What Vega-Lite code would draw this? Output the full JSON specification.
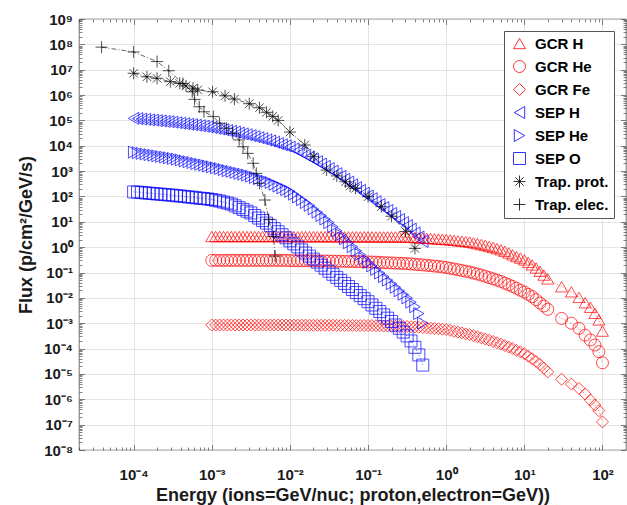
{
"$schema": "https://vega.github.io/schema/vega-lite/v6.json",
"width": 547, "height": 431,
"autosize": {"type": "none"},
"padding": {"left": 79, "top": 19, "right": 1, "bottom": 55},
"background": "white",
"config": {
 "view": {"stroke": "#333333", "strokeWidth": 0.7},
 "axis": {"labelFont": "Liberation Sans", "labelFontWeight": "bold", "labelFontSize": 15, "labelColor": "#1a1a1a",
   "titleFont": "Liberation Sans", "titleFontWeight": "bold", "titleFontSize": 18, "titleColor": "#1a1a1a",
   "domain": false, "tickColor": "#333333", "tickWidth": 0.6, "gridColor": "#d9d9d9", "gridWidth": 0.7,
   "labelOverlap": false, "labelFlush": false, "labelBound": false},
 "legend": {"labelFont": "Liberation Sans", "labelFontWeight": "bold", "labelFontSize": 15, "labelColor": "#000000"}
},
"data": {"values": [
{"s":"GCR H","lgE":-3.00,"lgF":0.42},{"s":"GCR H","lgE":-2.95,"lgF":0.42},{"s":"GCR H","lgE":-2.90,"lgF":0.42},{"s":"GCR H","lgE":-2.85,"lgF":0.42},{"s":"GCR H","lgE":-2.80,"lgF":0.42},{"s":"GCR H","lgE":-2.75,"lgF":0.42},{"s":"GCR H","lgE":-2.70,"lgF":0.42},{"s":"GCR H","lgE":-2.65,"lgF":0.42},{"s":"GCR H","lgE":-2.60,"lgF":0.42},{"s":"GCR H","lgE":-2.55,"lgF":0.42},
{"s":"GCR H","lgE":-2.50,"lgF":0.42},{"s":"GCR H","lgE":-2.45,"lgF":0.42},{"s":"GCR H","lgE":-2.40,"lgF":0.42},{"s":"GCR H","lgE":-2.35,"lgF":0.42},{"s":"GCR H","lgE":-2.30,"lgF":0.42},{"s":"GCR H","lgE":-2.25,"lgF":0.42},{"s":"GCR H","lgE":-2.20,"lgF":0.42},{"s":"GCR H","lgE":-2.15,"lgF":0.42},{"s":"GCR H","lgE":-2.10,"lgF":0.42},{"s":"GCR H","lgE":-2.05,"lgF":0.42},
{"s":"GCR H","lgE":-2.00,"lgF":0.42},{"s":"GCR H","lgE":-1.95,"lgF":0.415},{"s":"GCR H","lgE":-1.90,"lgF":0.415},{"s":"GCR H","lgE":-1.85,"lgF":0.415},{"s":"GCR H","lgE":-1.80,"lgF":0.415},{"s":"GCR H","lgE":-1.75,"lgF":0.415},{"s":"GCR H","lgE":-1.70,"lgF":0.415},{"s":"GCR H","lgE":-1.65,"lgF":0.415},{"s":"GCR H","lgE":-1.60,"lgF":0.415},{"s":"GCR H","lgE":-1.55,"lgF":0.415},
{"s":"GCR H","lgE":-1.50,"lgF":0.415},{"s":"GCR H","lgE":-1.45,"lgF":0.41},{"s":"GCR H","lgE":-1.40,"lgF":0.41},{"s":"GCR H","lgE":-1.35,"lgF":0.41},{"s":"GCR H","lgE":-1.30,"lgF":0.41},{"s":"GCR H","lgE":-1.25,"lgF":0.41},{"s":"GCR H","lgE":-1.20,"lgF":0.41},{"s":"GCR H","lgE":-1.15,"lgF":0.41},{"s":"GCR H","lgE":-1.10,"lgF":0.41},{"s":"GCR H","lgE":-1.05,"lgF":0.41},
{"s":"GCR H","lgE":-1.00,"lgF":0.41},{"s":"GCR H","lgE":-0.95,"lgF":0.405},{"s":"GCR H","lgE":-0.90,"lgF":0.405},{"s":"GCR H","lgE":-0.85,"lgF":0.405},{"s":"GCR H","lgE":-0.80,"lgF":0.405},{"s":"GCR H","lgE":-0.75,"lgF":0.405},{"s":"GCR H","lgE":-0.70,"lgF":0.405},{"s":"GCR H","lgE":-0.65,"lgF":0.405},{"s":"GCR H","lgE":-0.60,"lgF":0.405},{"s":"GCR H","lgE":-0.55,"lgF":0.40},
{"s":"GCR H","lgE":-0.50,"lgF":0.40},{"s":"GCR H","lgE":-0.45,"lgF":0.39},{"s":"GCR H","lgE":-0.40,"lgF":0.38},{"s":"GCR H","lgE":-0.35,"lgF":0.37},{"s":"GCR H","lgE":-0.30,"lgF":0.36},{"s":"GCR H","lgE":-0.25,"lgF":0.35},{"s":"GCR H","lgE":-0.20,"lgF":0.34},{"s":"GCR H","lgE":-0.15,"lgF":0.33},{"s":"GCR H","lgE":-0.10,"lgF":0.32},{"s":"GCR H","lgE":-0.05,"lgF":0.31},
{"s":"GCR H","lgE":0.00,"lgF":0.30},{"s":"GCR H","lgE":0.05,"lgF":0.285},{"s":"GCR H","lgE":0.10,"lgF":0.27},{"s":"GCR H","lgE":0.15,"lgF":0.25},{"s":"GCR H","lgE":0.20,"lgF":0.235},{"s":"GCR H","lgE":0.25,"lgF":0.22},{"s":"GCR H","lgE":0.30,"lgF":0.20},{"s":"GCR H","lgE":0.35,"lgF":0.17},{"s":"GCR H","lgE":0.40,"lgF":0.14},{"s":"GCR H","lgE":0.45,"lgF":0.105},
{"s":"GCR H","lgE":0.50,"lgF":0.07},{"s":"GCR H","lgE":0.55,"lgF":0.03},{"s":"GCR H","lgE":0.60,"lgF":-0.01},{"s":"GCR H","lgE":0.65,"lgF":-0.055},{"s":"GCR H","lgE":0.70,"lgF":-0.10},{"s":"GCR H","lgE":0.75,"lgF":-0.16},{"s":"GCR H","lgE":0.80,"lgF":-0.23},{"s":"GCR H","lgE":0.85,"lgF":-0.30},{"s":"GCR H","lgE":0.90,"lgF":-0.37},{"s":"GCR H","lgE":0.95,"lgF":-0.43},
{"s":"GCR H","lgE":1.00,"lgF":-0.50},{"s":"GCR H","lgE":1.05,"lgF":-0.60},{"s":"GCR H","lgE":1.10,"lgF":-0.70},{"s":"GCR H","lgE":1.15,"lgF":-0.82},{"s":"GCR H","lgE":1.20,"lgF":-0.95},{"s":"GCR H","lgE":1.25,"lgF":-1.10},{"s":"GCR H","lgE":1.30,"lgF":-1.25},
{"s":"GCR H","lgE":1.477,"lgF":-1.56},{"s":"GCR H","lgE":1.602,"lgF":-1.76},{"s":"GCR H","lgE":1.699,"lgF":-1.98},{"s":"GCR H","lgE":1.778,"lgF":-2.19},{"s":"GCR H","lgE":1.845,"lgF":-2.37},{"s":"GCR H","lgE":1.903,"lgF":-2.61},{"s":"GCR H","lgE":1.954,"lgF":-2.87},{"s":"GCR H","lgE":2.0,"lgF":-3.31},

{"s":"GCR He","lgE":-3.00,"lgF":-0.52},{"s":"GCR He","lgE":-2.95,"lgF":-0.52},{"s":"GCR He","lgE":-2.90,"lgF":-0.52},{"s":"GCR He","lgE":-2.85,"lgF":-0.52},{"s":"GCR He","lgE":-2.80,"lgF":-0.52},{"s":"GCR He","lgE":-2.75,"lgF":-0.52},{"s":"GCR He","lgE":-2.70,"lgF":-0.52},{"s":"GCR He","lgE":-2.65,"lgF":-0.52},{"s":"GCR He","lgE":-2.60,"lgF":-0.52},{"s":"GCR He","lgE":-2.55,"lgF":-0.52},
{"s":"GCR He","lgE":-2.50,"lgF":-0.52},{"s":"GCR He","lgE":-2.45,"lgF":-0.52},{"s":"GCR He","lgE":-2.40,"lgF":-0.52},{"s":"GCR He","lgE":-2.35,"lgF":-0.52},{"s":"GCR He","lgE":-2.30,"lgF":-0.52},{"s":"GCR He","lgE":-2.25,"lgF":-0.52},{"s":"GCR He","lgE":-2.20,"lgF":-0.52},{"s":"GCR He","lgE":-2.15,"lgF":-0.52},{"s":"GCR He","lgE":-2.10,"lgF":-0.52},{"s":"GCR He","lgE":-2.05,"lgF":-0.52},
{"s":"GCR He","lgE":-2.00,"lgF":-0.53},{"s":"GCR He","lgE":-1.95,"lgF":-0.535},{"s":"GCR He","lgE":-1.90,"lgF":-0.535},{"s":"GCR He","lgE":-1.85,"lgF":-0.535},{"s":"GCR He","lgE":-1.80,"lgF":-0.535},{"s":"GCR He","lgE":-1.75,"lgF":-0.54},{"s":"GCR He","lgE":-1.70,"lgF":-0.54},{"s":"GCR He","lgE":-1.65,"lgF":-0.54},{"s":"GCR He","lgE":-1.60,"lgF":-0.545},{"s":"GCR He","lgE":-1.55,"lgF":-0.545},
{"s":"GCR He","lgE":-1.50,"lgF":-0.55},{"s":"GCR He","lgE":-1.45,"lgF":-0.55},{"s":"GCR He","lgE":-1.40,"lgF":-0.555},{"s":"GCR He","lgE":-1.35,"lgF":-0.555},{"s":"GCR He","lgE":-1.30,"lgF":-0.56},{"s":"GCR He","lgE":-1.25,"lgF":-0.56},{"s":"GCR He","lgE":-1.20,"lgF":-0.565},{"s":"GCR He","lgE":-1.15,"lgF":-0.57},{"s":"GCR He","lgE":-1.10,"lgF":-0.57},{"s":"GCR He","lgE":-1.05,"lgF":-0.575},
{"s":"GCR He","lgE":-1.00,"lgF":-0.58},{"s":"GCR He","lgE":-0.95,"lgF":-0.585},{"s":"GCR He","lgE":-0.90,"lgF":-0.59},{"s":"GCR He","lgE":-0.85,"lgF":-0.60},{"s":"GCR He","lgE":-0.80,"lgF":-0.61},{"s":"GCR He","lgE":-0.75,"lgF":-0.615},{"s":"GCR He","lgE":-0.70,"lgF":-0.62},{"s":"GCR He","lgE":-0.65,"lgF":-0.63},{"s":"GCR He","lgE":-0.60,"lgF":-0.635},{"s":"GCR He","lgE":-0.55,"lgF":-0.64},
{"s":"GCR He","lgE":-0.50,"lgF":-0.65},{"s":"GCR He","lgE":-0.45,"lgF":-0.66},{"s":"GCR He","lgE":-0.40,"lgF":-0.675},{"s":"GCR He","lgE":-0.35,"lgF":-0.69},{"s":"GCR He","lgE":-0.30,"lgF":-0.70},{"s":"GCR He","lgE":-0.25,"lgF":-0.715},{"s":"GCR He","lgE":-0.20,"lgF":-0.73},{"s":"GCR He","lgE":-0.15,"lgF":-0.745},{"s":"GCR He","lgE":-0.10,"lgF":-0.76},{"s":"GCR He","lgE":-0.05,"lgF":-0.78},
{"s":"GCR He","lgE":0.00,"lgF":-0.80},{"s":"GCR He","lgE":0.05,"lgF":-0.83},{"s":"GCR He","lgE":0.10,"lgF":-0.86},{"s":"GCR He","lgE":0.15,"lgF":-0.89},{"s":"GCR He","lgE":0.20,"lgF":-0.92},{"s":"GCR He","lgE":0.25,"lgF":-0.95},{"s":"GCR He","lgE":0.30,"lgF":-0.98},{"s":"GCR He","lgE":0.35,"lgF":-1.02},{"s":"GCR He","lgE":0.40,"lgF":-1.06},{"s":"GCR He","lgE":0.45,"lgF":-1.10},
{"s":"GCR He","lgE":0.50,"lgF":-1.15},{"s":"GCR He","lgE":0.55,"lgF":-1.20},{"s":"GCR He","lgE":0.60,"lgF":-1.25},{"s":"GCR He","lgE":0.65,"lgF":-1.30},{"s":"GCR He","lgE":0.70,"lgF":-1.35},{"s":"GCR He","lgE":0.75,"lgF":-1.42},{"s":"GCR He","lgE":0.80,"lgF":-1.48},{"s":"GCR He","lgE":0.85,"lgF":-1.55},{"s":"GCR He","lgE":0.90,"lgF":-1.62},{"s":"GCR He","lgE":0.95,"lgF":-1.70},
{"s":"GCR He","lgE":1.00,"lgF":-1.77},{"s":"GCR He","lgE":1.05,"lgF":-1.86},{"s":"GCR He","lgE":1.10,"lgF":-1.95},{"s":"GCR He","lgE":1.15,"lgF":-2.07},{"s":"GCR He","lgE":1.20,"lgF":-2.20},{"s":"GCR He","lgE":1.25,"lgF":-2.32},{"s":"GCR He","lgE":1.30,"lgF":-2.45},
{"s":"GCR He","lgE":1.477,"lgF":-2.81},{"s":"GCR He","lgE":1.602,"lgF":-3.00},{"s":"GCR He","lgE":1.699,"lgF":-3.20},{"s":"GCR He","lgE":1.778,"lgF":-3.47},{"s":"GCR He","lgE":1.845,"lgF":-3.66},{"s":"GCR He","lgE":1.903,"lgF":-3.86},{"s":"GCR He","lgE":1.954,"lgF":-4.12},{"s":"GCR He","lgE":2.0,"lgF":-4.56},

{"s":"GCR Fe","lgE":-3.00,"lgF":-3.07},{"s":"GCR Fe","lgE":-2.95,"lgF":-3.07},{"s":"GCR Fe","lgE":-2.90,"lgF":-3.07},{"s":"GCR Fe","lgE":-2.85,"lgF":-3.07},{"s":"GCR Fe","lgE":-2.80,"lgF":-3.07},{"s":"GCR Fe","lgE":-2.75,"lgF":-3.07},{"s":"GCR Fe","lgE":-2.70,"lgF":-3.07},{"s":"GCR Fe","lgE":-2.65,"lgF":-3.07},{"s":"GCR Fe","lgE":-2.60,"lgF":-3.07},{"s":"GCR Fe","lgE":-2.55,"lgF":-3.07},
{"s":"GCR Fe","lgE":-2.50,"lgF":-3.07},{"s":"GCR Fe","lgE":-2.45,"lgF":-3.07},{"s":"GCR Fe","lgE":-2.40,"lgF":-3.07},{"s":"GCR Fe","lgE":-2.35,"lgF":-3.07},{"s":"GCR Fe","lgE":-2.30,"lgF":-3.07},{"s":"GCR Fe","lgE":-2.25,"lgF":-3.07},{"s":"GCR Fe","lgE":-2.20,"lgF":-3.07},{"s":"GCR Fe","lgE":-2.15,"lgF":-3.07},{"s":"GCR Fe","lgE":-2.10,"lgF":-3.07},{"s":"GCR Fe","lgE":-2.05,"lgF":-3.07},
{"s":"GCR Fe","lgE":-2.00,"lgF":-3.075},{"s":"GCR Fe","lgE":-1.95,"lgF":-3.075},{"s":"GCR Fe","lgE":-1.90,"lgF":-3.075},{"s":"GCR Fe","lgE":-1.85,"lgF":-3.075},{"s":"GCR Fe","lgE":-1.80,"lgF":-3.075},{"s":"GCR Fe","lgE":-1.75,"lgF":-3.08},{"s":"GCR Fe","lgE":-1.70,"lgF":-3.08},{"s":"GCR Fe","lgE":-1.65,"lgF":-3.08},{"s":"GCR Fe","lgE":-1.60,"lgF":-3.08},{"s":"GCR Fe","lgE":-1.55,"lgF":-3.08},
{"s":"GCR Fe","lgE":-1.50,"lgF":-3.08},{"s":"GCR Fe","lgE":-1.45,"lgF":-3.08},{"s":"GCR Fe","lgE":-1.40,"lgF":-3.085},{"s":"GCR Fe","lgE":-1.35,"lgF":-3.085},{"s":"GCR Fe","lgE":-1.30,"lgF":-3.085},{"s":"GCR Fe","lgE":-1.25,"lgF":-3.085},{"s":"GCR Fe","lgE":-1.20,"lgF":-3.085},{"s":"GCR Fe","lgE":-1.15,"lgF":-3.09},{"s":"GCR Fe","lgE":-1.10,"lgF":-3.09},{"s":"GCR Fe","lgE":-1.05,"lgF":-3.09},
{"s":"GCR Fe","lgE":-1.00,"lgF":-3.09},{"s":"GCR Fe","lgE":-0.95,"lgF":-3.09},{"s":"GCR Fe","lgE":-0.90,"lgF":-3.10},{"s":"GCR Fe","lgE":-0.85,"lgF":-3.10},{"s":"GCR Fe","lgE":-0.80,"lgF":-3.11},{"s":"GCR Fe","lgE":-0.75,"lgF":-3.11},{"s":"GCR Fe","lgE":-0.70,"lgF":-3.12},{"s":"GCR Fe","lgE":-0.65,"lgF":-3.12},{"s":"GCR Fe","lgE":-0.60,"lgF":-3.13},{"s":"GCR Fe","lgE":-0.55,"lgF":-3.13},
{"s":"GCR Fe","lgE":-0.50,"lgF":-3.13},{"s":"GCR Fe","lgE":-0.45,"lgF":-3.14},{"s":"GCR Fe","lgE":-0.40,"lgF":-3.15},{"s":"GCR Fe","lgE":-0.35,"lgF":-3.16},{"s":"GCR Fe","lgE":-0.30,"lgF":-3.17},{"s":"GCR Fe","lgE":-0.25,"lgF":-3.18},{"s":"GCR Fe","lgE":-0.20,"lgF":-3.195},{"s":"GCR Fe","lgE":-0.15,"lgF":-3.21},{"s":"GCR Fe","lgE":-0.10,"lgF":-3.22},{"s":"GCR Fe","lgE":-0.05,"lgF":-3.235},
{"s":"GCR Fe","lgE":0.00,"lgF":-3.25},{"s":"GCR Fe","lgE":0.05,"lgF":-3.28},{"s":"GCR Fe","lgE":0.10,"lgF":-3.32},{"s":"GCR Fe","lgE":0.15,"lgF":-3.35},{"s":"GCR Fe","lgE":0.20,"lgF":-3.38},{"s":"GCR Fe","lgE":0.25,"lgF":-3.42},{"s":"GCR Fe","lgE":0.30,"lgF":-3.45},{"s":"GCR Fe","lgE":0.35,"lgF":-3.49},{"s":"GCR Fe","lgE":0.40,"lgF":-3.53},{"s":"GCR Fe","lgE":0.45,"lgF":-3.58},
{"s":"GCR Fe","lgE":0.50,"lgF":-3.62},{"s":"GCR Fe","lgE":0.55,"lgF":-3.67},{"s":"GCR Fe","lgE":0.60,"lgF":-3.72},{"s":"GCR Fe","lgE":0.65,"lgF":-3.77},{"s":"GCR Fe","lgE":0.70,"lgF":-3.82},{"s":"GCR Fe","lgE":0.75,"lgF":-3.88},{"s":"GCR Fe","lgE":0.80,"lgF":-3.94},{"s":"GCR Fe","lgE":0.85,"lgF":-4.00},{"s":"GCR Fe","lgE":0.90,"lgF":-4.07},{"s":"GCR Fe","lgE":0.95,"lgF":-4.13},
{"s":"GCR Fe","lgE":1.00,"lgF":-4.20},{"s":"GCR Fe","lgE":1.05,"lgF":-4.30},{"s":"GCR Fe","lgE":1.10,"lgF":-4.40},{"s":"GCR Fe","lgE":1.15,"lgF":-4.51},{"s":"GCR Fe","lgE":1.20,"lgF":-4.63},{"s":"GCR Fe","lgE":1.25,"lgF":-4.77},{"s":"GCR Fe","lgE":1.30,"lgF":-4.92},
{"s":"GCR Fe","lgE":1.477,"lgF":-5.21},{"s":"GCR Fe","lgE":1.602,"lgF":-5.40},{"s":"GCR Fe","lgE":1.699,"lgF":-5.57},{"s":"GCR Fe","lgE":1.778,"lgF":-5.79},{"s":"GCR Fe","lgE":1.845,"lgF":-6.03},{"s":"GCR Fe","lgE":1.903,"lgF":-6.23},{"s":"GCR Fe","lgE":1.954,"lgF":-6.45},{"s":"GCR Fe","lgE":2.0,"lgF":-6.89},

{"s":"SEP H","lgE":-4.00,"lgF":5.08},{"s":"SEP H","lgE":-3.95,"lgF":5.07},{"s":"SEP H","lgE":-3.90,"lgF":5.05},{"s":"SEP H","lgE":-3.85,"lgF":5.04},{"s":"SEP H","lgE":-3.80,"lgF":5.02},{"s":"SEP H","lgE":-3.75,"lgF":5.01},{"s":"SEP H","lgE":-3.70,"lgF":4.99},{"s":"SEP H","lgE":-3.65,"lgF":4.98},{"s":"SEP H","lgE":-3.60,"lgF":4.96},{"s":"SEP H","lgE":-3.55,"lgF":4.95},
{"s":"SEP H","lgE":-3.50,"lgF":4.93},{"s":"SEP H","lgE":-3.45,"lgF":4.91},{"s":"SEP H","lgE":-3.40,"lgF":4.89},{"s":"SEP H","lgE":-3.35,"lgF":4.87},{"s":"SEP H","lgE":-3.30,"lgF":4.85},{"s":"SEP H","lgE":-3.25,"lgF":4.83},{"s":"SEP H","lgE":-3.20,"lgF":4.81},{"s":"SEP H","lgE":-3.15,"lgF":4.79},{"s":"SEP H","lgE":-3.10,"lgF":4.77},{"s":"SEP H","lgE":-3.05,"lgF":4.745},
{"s":"SEP H","lgE":-3.00,"lgF":4.72},{"s":"SEP H","lgE":-2.95,"lgF":4.69},{"s":"SEP H","lgE":-2.90,"lgF":4.66},{"s":"SEP H","lgE":-2.85,"lgF":4.63},{"s":"SEP H","lgE":-2.80,"lgF":4.60},{"s":"SEP H","lgE":-2.75,"lgF":4.57},{"s":"SEP H","lgE":-2.70,"lgF":4.54},{"s":"SEP H","lgE":-2.65,"lgF":4.50},{"s":"SEP H","lgE":-2.60,"lgF":4.47},{"s":"SEP H","lgE":-2.55,"lgF":4.435},
{"s":"SEP H","lgE":-2.50,"lgF":4.40},{"s":"SEP H","lgE":-2.45,"lgF":4.36},{"s":"SEP H","lgE":-2.40,"lgF":4.32},{"s":"SEP H","lgE":-2.35,"lgF":4.28},{"s":"SEP H","lgE":-2.30,"lgF":4.23},{"s":"SEP H","lgE":-2.25,"lgF":4.19},{"s":"SEP H","lgE":-2.20,"lgF":4.14},{"s":"SEP H","lgE":-2.15,"lgF":4.09},{"s":"SEP H","lgE":-2.10,"lgF":4.04},{"s":"SEP H","lgE":-2.05,"lgF":4.00},
{"s":"SEP H","lgE":-2.00,"lgF":3.95},{"s":"SEP H","lgE":-1.95,"lgF":3.88},{"s":"SEP H","lgE":-1.90,"lgF":3.80},{"s":"SEP H","lgE":-1.85,"lgF":3.72},{"s":"SEP H","lgE":-1.80,"lgF":3.63},{"s":"SEP H","lgE":-1.75,"lgF":3.55},{"s":"SEP H","lgE":-1.70,"lgF":3.46},{"s":"SEP H","lgE":-1.65,"lgF":3.37},{"s":"SEP H","lgE":-1.60,"lgF":3.28},{"s":"SEP H","lgE":-1.55,"lgF":3.19},
{"s":"SEP H","lgE":-1.50,"lgF":3.10},{"s":"SEP H","lgE":-1.45,"lgF":3.00},{"s":"SEP H","lgE":-1.40,"lgF":2.90},{"s":"SEP H","lgE":-1.35,"lgF":2.79},{"s":"SEP H","lgE":-1.30,"lgF":2.68},{"s":"SEP H","lgE":-1.25,"lgF":2.57},{"s":"SEP H","lgE":-1.20,"lgF":2.46},{"s":"SEP H","lgE":-1.15,"lgF":2.35},{"s":"SEP H","lgE":-1.10,"lgF":2.24},{"s":"SEP H","lgE":-1.05,"lgF":2.13},
{"s":"SEP H","lgE":-1.00,"lgF":2.02},{"s":"SEP H","lgE":-0.95,"lgF":1.91},{"s":"SEP H","lgE":-0.90,"lgF":1.79},{"s":"SEP H","lgE":-0.85,"lgF":1.68},{"s":"SEP H","lgE":-0.80,"lgF":1.56},{"s":"SEP H","lgE":-0.75,"lgF":1.45},{"s":"SEP H","lgE":-0.70,"lgF":1.33},{"s":"SEP H","lgE":-0.65,"lgF":1.21},{"s":"SEP H","lgE":-0.60,"lgF":1.09},{"s":"SEP H","lgE":-0.55,"lgF":0.97},
{"s":"SEP H","lgE":-0.50,"lgF":0.85},{"s":"SEP H","lgE":-0.45,"lgF":0.71},{"s":"SEP H","lgE":-0.40,"lgF":0.56},{"s":"SEP H","lgE":-0.35,"lgF":0.40},{"s":"SEP H","lgE":-0.30,"lgF":0.23},

{"s":"SEP He","lgE":-4.00,"lgF":3.75},{"s":"SEP He","lgE":-3.95,"lgF":3.725},{"s":"SEP He","lgE":-3.90,"lgF":3.70},{"s":"SEP He","lgE":-3.85,"lgF":3.675},{"s":"SEP He","lgE":-3.80,"lgF":3.65},{"s":"SEP He","lgE":-3.75,"lgF":3.625},{"s":"SEP He","lgE":-3.70,"lgF":3.60},{"s":"SEP He","lgE":-3.65,"lgF":3.575},{"s":"SEP He","lgE":-3.60,"lgF":3.55},{"s":"SEP He","lgE":-3.55,"lgF":3.525},
{"s":"SEP He","lgE":-3.50,"lgF":3.50},{"s":"SEP He","lgE":-3.45,"lgF":3.47},{"s":"SEP He","lgE":-3.40,"lgF":3.44},{"s":"SEP He","lgE":-3.35,"lgF":3.40},{"s":"SEP He","lgE":-3.30,"lgF":3.37},{"s":"SEP He","lgE":-3.25,"lgF":3.34},{"s":"SEP He","lgE":-3.20,"lgF":3.30},{"s":"SEP He","lgE":-3.15,"lgF":3.27},{"s":"SEP He","lgE":-3.10,"lgF":3.24},{"s":"SEP He","lgE":-3.05,"lgF":3.20},
{"s":"SEP He","lgE":-3.00,"lgF":3.17},{"s":"SEP He","lgE":-2.95,"lgF":3.13},{"s":"SEP He","lgE":-2.90,"lgF":3.10},{"s":"SEP He","lgE":-2.85,"lgF":3.06},{"s":"SEP He","lgE":-2.80,"lgF":3.02},{"s":"SEP He","lgE":-2.75,"lgF":2.99},{"s":"SEP He","lgE":-2.70,"lgF":2.95},{"s":"SEP He","lgE":-2.65,"lgF":2.91},{"s":"SEP He","lgE":-2.60,"lgF":2.88},{"s":"SEP He","lgE":-2.55,"lgF":2.84},
{"s":"SEP He","lgE":-2.50,"lgF":2.80},{"s":"SEP He","lgE":-2.45,"lgF":2.75},{"s":"SEP He","lgE":-2.40,"lgF":2.70},{"s":"SEP He","lgE":-2.35,"lgF":2.65},{"s":"SEP He","lgE":-2.30,"lgF":2.60},{"s":"SEP He","lgE":-2.25,"lgF":2.55},{"s":"SEP He","lgE":-2.20,"lgF":2.48},{"s":"SEP He","lgE":-2.15,"lgF":2.41},{"s":"SEP He","lgE":-2.10,"lgF":2.34},{"s":"SEP He","lgE":-2.05,"lgF":2.27},
{"s":"SEP He","lgE":-2.00,"lgF":2.20},{"s":"SEP He","lgE":-1.95,"lgF":2.09},{"s":"SEP He","lgE":-1.90,"lgF":1.98},{"s":"SEP He","lgE":-1.85,"lgF":1.87},{"s":"SEP He","lgE":-1.80,"lgF":1.76},{"s":"SEP He","lgE":-1.75,"lgF":1.65},{"s":"SEP He","lgE":-1.70,"lgF":1.51},{"s":"SEP He","lgE":-1.65,"lgF":1.38},{"s":"SEP He","lgE":-1.60,"lgF":1.25},{"s":"SEP He","lgE":-1.55,"lgF":1.11},
{"s":"SEP He","lgE":-1.50,"lgF":0.97},{"s":"SEP He","lgE":-1.45,"lgF":0.81},{"s":"SEP He","lgE":-1.40,"lgF":0.65},{"s":"SEP He","lgE":-1.35,"lgF":0.49},{"s":"SEP He","lgE":-1.30,"lgF":0.33},{"s":"SEP He","lgE":-1.25,"lgF":0.17},{"s":"SEP He","lgE":-1.20,"lgF":0.02},{"s":"SEP He","lgE":-1.15,"lgF":-0.14},{"s":"SEP He","lgE":-1.10,"lgF":-0.29},{"s":"SEP He","lgE":-1.05,"lgF":-0.45},
{"s":"SEP He","lgE":-1.00,"lgF":-0.60},{"s":"SEP He","lgE":-0.95,"lgF":-0.74},{"s":"SEP He","lgE":-0.90,"lgF":-0.88},{"s":"SEP He","lgE":-0.85,"lgF":-1.02},{"s":"SEP He","lgE":-0.80,"lgF":-1.16},{"s":"SEP He","lgE":-0.75,"lgF":-1.30},{"s":"SEP He","lgE":-0.70,"lgF":-1.44},{"s":"SEP He","lgE":-0.65,"lgF":-1.58},{"s":"SEP He","lgE":-0.60,"lgF":-1.72},{"s":"SEP He","lgE":-0.55,"lgF":-1.86},
{"s":"SEP He","lgE":-0.50,"lgF":-2.00},{"s":"SEP He","lgE":-0.45,"lgF":-2.17},{"s":"SEP He","lgE":-0.40,"lgF":-2.35},{"s":"SEP He","lgE":-0.35,"lgF":-2.62},{"s":"SEP He","lgE":-0.30,"lgF":-3.00},

{"s":"SEP O","lgE":-4.00,"lgF":2.18},{"s":"SEP O","lgE":-3.95,"lgF":2.17},{"s":"SEP O","lgE":-3.90,"lgF":2.155},{"s":"SEP O","lgE":-3.85,"lgF":2.14},{"s":"SEP O","lgE":-3.80,"lgF":2.13},{"s":"SEP O","lgE":-3.75,"lgF":2.115},{"s":"SEP O","lgE":-3.70,"lgF":2.10},{"s":"SEP O","lgE":-3.65,"lgF":2.09},{"s":"SEP O","lgE":-3.60,"lgF":2.075},{"s":"SEP O","lgE":-3.55,"lgF":2.06},
{"s":"SEP O","lgE":-3.50,"lgF":2.05},{"s":"SEP O","lgE":-3.45,"lgF":2.03},{"s":"SEP O","lgE":-3.40,"lgF":2.02},{"s":"SEP O","lgE":-3.35,"lgF":2.00},{"s":"SEP O","lgE":-3.30,"lgF":1.98},{"s":"SEP O","lgE":-3.25,"lgF":1.97},{"s":"SEP O","lgE":-3.20,"lgF":1.95},{"s":"SEP O","lgE":-3.15,"lgF":1.93},{"s":"SEP O","lgE":-3.10,"lgF":1.92},{"s":"SEP O","lgE":-3.05,"lgF":1.90},
{"s":"SEP O","lgE":-3.00,"lgF":1.88},{"s":"SEP O","lgE":-2.95,"lgF":1.85},{"s":"SEP O","lgE":-2.90,"lgF":1.82},{"s":"SEP O","lgE":-2.85,"lgF":1.78},{"s":"SEP O","lgE":-2.80,"lgF":1.74},{"s":"SEP O","lgE":-2.75,"lgF":1.70},{"s":"SEP O","lgE":-2.70,"lgF":1.63},{"s":"SEP O","lgE":-2.65,"lgF":1.56},{"s":"SEP O","lgE":-2.60,"lgF":1.49},{"s":"SEP O","lgE":-2.55,"lgF":1.42},
{"s":"SEP O","lgE":-2.50,"lgF":1.35},{"s":"SEP O","lgE":-2.45,"lgF":1.25},{"s":"SEP O","lgE":-2.40,"lgF":1.15},{"s":"SEP O","lgE":-2.35,"lgF":1.05},{"s":"SEP O","lgE":-2.30,"lgF":0.95},{"s":"SEP O","lgE":-2.25,"lgF":0.85},{"s":"SEP O","lgE":-2.20,"lgF":0.73},{"s":"SEP O","lgE":-2.15,"lgF":0.61},{"s":"SEP O","lgE":-2.10,"lgF":0.49},{"s":"SEP O","lgE":-2.05,"lgF":0.37},
{"s":"SEP O","lgE":-2.00,"lgF":0.25},{"s":"SEP O","lgE":-1.95,"lgF":0.13},{"s":"SEP O","lgE":-1.90,"lgF":0.01},{"s":"SEP O","lgE":-1.85,"lgF":-0.11},{"s":"SEP O","lgE":-1.80,"lgF":-0.23},{"s":"SEP O","lgE":-1.75,"lgF":-0.35},{"s":"SEP O","lgE":-1.70,"lgF":-0.47},{"s":"SEP O","lgE":-1.65,"lgF":-0.59},{"s":"SEP O","lgE":-1.60,"lgF":-0.71},{"s":"SEP O","lgE":-1.55,"lgF":-0.83},
{"s":"SEP O","lgE":-1.50,"lgF":-0.95},{"s":"SEP O","lgE":-1.45,"lgF":-1.07},{"s":"SEP O","lgE":-1.40,"lgF":-1.19},{"s":"SEP O","lgE":-1.35,"lgF":-1.31},{"s":"SEP O","lgE":-1.30,"lgF":-1.43},{"s":"SEP O","lgE":-1.25,"lgF":-1.55},{"s":"SEP O","lgE":-1.20,"lgF":-1.67},{"s":"SEP O","lgE":-1.15,"lgF":-1.79},{"s":"SEP O","lgE":-1.10,"lgF":-1.91},{"s":"SEP O","lgE":-1.05,"lgF":-2.03},
{"s":"SEP O","lgE":-1.00,"lgF":-2.15},{"s":"SEP O","lgE":-0.95,"lgF":-2.28},{"s":"SEP O","lgE":-0.90,"lgF":-2.41},{"s":"SEP O","lgE":-0.85,"lgF":-2.54},{"s":"SEP O","lgE":-0.80,"lgF":-2.67},{"s":"SEP O","lgE":-0.75,"lgF":-2.80},{"s":"SEP O","lgE":-0.70,"lgF":-2.93},{"s":"SEP O","lgE":-0.65,"lgF":-3.07},{"s":"SEP O","lgE":-0.60,"lgF":-3.20},{"s":"SEP O","lgE":-0.55,"lgF":-3.35},
{"s":"SEP O","lgE":-0.50,"lgF":-3.50},{"s":"SEP O","lgE":-0.45,"lgF":-3.70},{"s":"SEP O","lgE":-0.40,"lgF":-3.95},{"s":"SEP O","lgE":-0.35,"lgF":-4.25},{"s":"SEP O","lgE":-0.30,"lgF":-4.65},

{"s":"Trap. prot.","lgE":-4.00,"lgF":6.86},{"s":"Trap. prot.","lgE":-3.83,"lgF":6.72},{"s":"Trap. prot.","lgE":-3.70,"lgF":6.66},{"s":"Trap. prot.","lgE":-3.53,"lgF":6.53},{"s":"Trap. prot.","lgE":-3.41,"lgF":6.46},{"s":"Trap. prot.","lgE":-3.33,"lgF":6.36},{"s":"Trap. prot.","lgE":-3.24,"lgF":6.27},{"s":"Trap. prot.","lgE":-3.18,"lgF":6.20},{"s":"Trap. prot.","lgE":-2.99,"lgF":6.13},{"s":"Trap. prot.","lgE":-2.83,"lgF":5.97},
{"s":"Trap. prot.","lgE":-2.71,"lgF":5.84},{"s":"Trap. prot.","lgE":-2.52,"lgF":5.66},{"s":"Trap. prot.","lgE":-2.39,"lgF":5.50},{"s":"Trap. prot.","lgE":-2.30,"lgF":5.32},{"s":"Trap. prot.","lgE":-2.22,"lgF":5.16},{"s":"Trap. prot.","lgE":-2.15,"lgF":5.00},{"s":"Trap. prot.","lgE":-2.00,"lgF":4.54},{"s":"Trap. prot.","lgE":-1.81,"lgF":4.03},{"s":"Trap. prot.","lgE":-1.70,"lgF":3.57},{"s":"Trap. prot.","lgE":-1.53,"lgF":3.04},
{"s":"Trap. prot.","lgE":-1.40,"lgF":2.81},{"s":"Trap. prot.","lgE":-1.29,"lgF":2.58},{"s":"Trap. prot.","lgE":-1.23,"lgF":2.41},{"s":"Trap. prot.","lgE":-1.16,"lgF":2.32},{"s":"Trap. prot.","lgE":-1.00,"lgF":1.99},{"s":"Trap. prot.","lgE":-0.83,"lgF":1.60},{"s":"Trap. prot.","lgE":-0.70,"lgF":1.22},{"s":"Trap. prot.","lgE":-0.52,"lgF":0.62},{"s":"Trap. prot.","lgE":-0.40,"lgF":-0.05},

{"s":"Trap. elec.","lgE":-4.41,"lgF":7.89},{"s":"Trap. elec.","lgE":-4.00,"lgF":7.70},{"s":"Trap. elec.","lgE":-3.70,"lgF":7.32},{"s":"Trap. elec.","lgE":-3.55,"lgF":6.96},{"s":"Trap. elec.","lgE":-3.37,"lgF":6.46},{"s":"Trap. elec.","lgE":-3.25,"lgF":6.13},{"s":"Trap. elec.","lgE":-3.22,"lgF":5.83},{"s":"Trap. elec.","lgE":-3.16,"lgF":5.54},{"s":"Trap. elec.","lgE":-3.10,"lgF":5.34},{"s":"Trap. elec.","lgE":-2.98,"lgF":5.15},
{"s":"Trap. elec.","lgE":-2.90,"lgF":4.89},{"s":"Trap. elec.","lgE":-2.81,"lgF":4.69},{"s":"Trap. elec.","lgE":-2.73,"lgF":4.49},{"s":"Trap. elec.","lgE":-2.65,"lgF":4.23},{"s":"Trap. elec.","lgE":-2.60,"lgF":3.96},{"s":"Trap. elec.","lgE":-2.54,"lgF":3.70},{"s":"Trap. elec.","lgE":-2.47,"lgF":3.31},{"s":"Trap. elec.","lgE":-2.43,"lgF":2.91},{"s":"Trap. elec.","lgE":-2.39,"lgF":2.52},{"s":"Trap. elec.","lgE":-2.32,"lgF":1.86},
{"s":"Trap. elec.","lgE":-2.27,"lgF":1.10},{"s":"Trap. elec.","lgE":-2.21,"lgF":0.42},{"s":"Trap. elec.","lgE":-2.19,"lgF":-0.35}
]},
"layer": [
 {"mark": {"type": "line", "strokeWidth": 0.6, "clip": true},
  "encoding": {
   "x": {"field": "lgE", "type": "quantitative", "scale": {"domain": [-4.699, 2.301], "nice": false, "zero": false},
     "axis": {"orient": "bottom", "title": "Energy (ions=GeV/nuc; proton,electron=GeV))", "titleY": 50, "titleBaseline": "alphabetic",
       "values": [-4,-3,-2,-1,0,1,2,-4.699,-4.523,-4.398,-4.301,-4.222,-4.155,-4.097,-4.046,-3.699,-3.523,-3.398,-3.301,-3.222,-3.155,-3.097,-3.046,-2.699,-2.523,-2.398,-2.301,-2.222,-2.155,-2.097,-2.046,-1.699,-1.523,-1.398,-1.301,-1.222,-1.155,-1.097,-1.046,-0.699,-0.523,-0.398,-0.301,-0.222,-0.155,-0.097,-0.046,0.301,0.477,0.602,0.699,0.778,0.845,0.903,0.954,1.301,1.477,1.602,1.699,1.778,1.845,1.903,1.954],
       "labelExpr": "abs(datum.value-round(datum.value))<0.001 ? '10' + ['⁻⁸','⁻⁷','⁻⁶','⁻⁵','⁻⁴','⁻³','⁻²','⁻¹','⁰','¹','²','³','⁴','⁵','⁶','⁷','⁸','⁹'][round(datum.value)+8] : ''",
       "labelPadding": 22.5,
       "tickSize": {"condition": {"test": "abs(datum.value-round(datum.value))<0.001", "value": -5.5}, "value": -3},
       "gridOpacity": {"condition": {"test": "abs(datum.value-round(datum.value))<0.001", "value": 1}, "value": 0}}},
   "y": {"field": "lgF", "type": "quantitative", "scale": {"domain": [-8, 9], "nice": false, "zero": false},
     "axis": {"orient": "left", "title": "Flux (p/cm²/GeV/s)", "titleX": -44,
       "values": [-8,-7,-6,-5,-4,-3,-2,-1,0,1,2,3,4,5,6,7,8,9,
         -7.699,-7.523,-7.398,-7.301,-7.222,-7.155,-7.097,-7.046,-6.699,-6.523,-6.398,-6.301,-6.222,-6.155,-6.097,-6.046,-5.699,-5.523,-5.398,-5.301,-5.222,-5.155,-5.097,-5.046,-4.699,-4.523,-4.398,-4.301,-4.222,-4.155,-4.097,-4.046,-3.699,-3.523,-3.398,-3.301,-3.222,-3.155,-3.097,-3.046,-2.699,-2.523,-2.398,-2.301,-2.222,-2.155,-2.097,-2.046,-1.699,-1.523,-1.398,-1.301,-1.222,-1.155,-1.097,-1.046,-0.699,-0.523,-0.398,-0.301,-0.222,-0.155,-0.097,-0.046,
         0.301,0.477,0.602,0.699,0.778,0.845,0.903,0.954,1.301,1.477,1.602,1.699,1.778,1.845,1.903,1.954,2.301,2.477,2.602,2.699,2.778,2.845,2.903,2.954,3.301,3.477,3.602,3.699,3.778,3.845,3.903,3.954,4.301,4.477,4.602,4.699,4.778,4.845,4.903,4.954,5.301,5.477,5.602,5.699,5.778,5.845,5.903,5.954,6.301,6.477,6.602,6.699,6.778,6.845,6.903,6.954,7.301,7.477,7.602,7.699,7.778,7.845,7.903,7.954,8.301,8.477,8.602,8.699,8.778,8.845,8.903,8.954],
       "labelExpr": "abs(datum.value-round(datum.value))<0.001 ? '10' + ['⁻⁸','⁻⁷','⁻⁶','⁻⁵','⁻⁴','⁻³','⁻²','⁻¹','⁰','¹','²','³','⁴','⁵','⁶','⁷','⁸','⁹'][round(datum.value)+8] : ''",
       "labelPadding": 12,
       "tickSize": {"condition": {"test": "abs(datum.value-round(datum.value))<0.001", "value": -5.5}, "value": -3},
       "gridOpacity": {"condition": {"test": "abs(datum.value-round(datum.value))<0.001", "value": 1}, "value": 0}}},
   "stroke": {"field": "s", "type": "nominal", "legend": null,
     "scale": {"domain": ["Trap. elec.","Trap. prot.","SEP O","SEP He","SEP H","GCR Fe","GCR He","GCR H"],
       "range": ["#000000","#000000","#0000ff","#0000ff","#0000ff","#ff0000","#ff0000","#ff0000"]}},
   "strokeDash": {"field": "s", "type": "nominal", "legend": null,
     "scale": {"domain": ["Trap. elec.","Trap. prot.","SEP O","SEP He","SEP H","GCR Fe","GCR He","GCR H"],
       "range": [[5,2,1,2],[5,2,1,2],[1,2],[1,2],[1,2],[1,2],[1,2],[1,2]]}}
  }},
 {"mark": {"type": "point", "filled": false, "strokeWidth": 0.7, "size": 144, "opacity": 1},
  "encoding": {
   "x": {"field": "lgE", "type": "quantitative",
     "axis": {"orient": "top", "title": null, "labels": false, "grid": false,
       "values": [-4,-3,-2,-1,0,1,2,-4.699,-4.523,-4.398,-4.301,-4.222,-4.155,-4.097,-4.046,-3.699,-3.523,-3.398,-3.301,-3.222,-3.155,-3.097,-3.046,-2.699,-2.523,-2.398,-2.301,-2.222,-2.155,-2.097,-2.046,-1.699,-1.523,-1.398,-1.301,-1.222,-1.155,-1.097,-1.046,-0.699,-0.523,-0.398,-0.301,-0.222,-0.155,-0.097,-0.046,0.301,0.477,0.602,0.699,0.778,0.845,0.903,0.954,1.301,1.477,1.602,1.699,1.778,1.845,1.903,1.954],
       "tickSize": {"condition": {"test": "abs(datum.value-round(datum.value))<0.001", "value": -5.5}, "value": -3}}},
   "y": {"field": "lgF", "type": "quantitative",
     "axis": {"orient": "right", "title": null, "labels": false, "grid": false,
       "values": [-8,-7,-6,-5,-4,-3,-2,-1,0,1,2,3,4,5,6,7,8,9,
         -7.699,-7.523,-7.398,-7.301,-7.222,-7.155,-7.097,-7.046,-6.699,-6.523,-6.398,-6.301,-6.222,-6.155,-6.097,-6.046,-5.699,-5.523,-5.398,-5.301,-5.222,-5.155,-5.097,-5.046,-4.699,-4.523,-4.398,-4.301,-4.222,-4.155,-4.097,-4.046,-3.699,-3.523,-3.398,-3.301,-3.222,-3.155,-3.097,-3.046,-2.699,-2.523,-2.398,-2.301,-2.222,-2.155,-2.097,-2.046,-1.699,-1.523,-1.398,-1.301,-1.222,-1.155,-1.097,-1.046,-0.699,-0.523,-0.398,-0.301,-0.222,-0.155,-0.097,-0.046,
         0.301,0.477,0.602,0.699,0.778,0.845,0.903,0.954,1.301,1.477,1.602,1.699,1.778,1.845,1.903,1.954,2.301,2.477,2.602,2.699,2.778,2.845,2.903,2.954,3.301,3.477,3.602,3.699,3.778,3.845,3.903,3.954,4.301,4.477,4.602,4.699,4.778,4.845,4.903,4.954,5.301,5.477,5.602,5.699,5.778,5.845,5.903,5.954,6.301,6.477,6.602,6.699,6.778,6.845,6.903,6.954,7.301,7.477,7.602,7.699,7.778,7.845,7.903,7.954,8.301,8.477,8.602,8.699,8.778,8.845,8.903,8.954],
       "tickSize": {"condition": {"test": "abs(datum.value-round(datum.value))<0.001", "value": -5.5}, "value": -3}}},
   "color": {"field": "s", "type": "nominal",
     "scale": {"domain": ["GCR H","GCR He","GCR Fe","SEP H","SEP He","SEP O","Trap. prot.","Trap. elec."],
       "range": ["#ff0000","#ff0000","#ff0000","#0000ff","#0000ff","#0000ff","#000000","#000000"]},
     "legend": {"title": null, "orient": "top-right", "offset": 12,
       "fillColor": "white", "strokeColor": "#555555", "padding": 5, "rowPadding": 6, "symbolSize": 144,
       "symbolStrokeWidth": 0.8, "symbolOffset": 3, "labelOffset": 8}},
   "shape": {"field": "s", "type": "nominal",
     "scale": {"domain": ["GCR H","GCR He","GCR Fe","SEP H","SEP He","SEP O","Trap. prot.","Trap. elec."],
       "range": ["triangle-up","circle","diamond","triangle-left","triangle-right","square","M-1,0L1,0M0,-1L0,1M-0.7,-0.7L0.7,0.7M-0.7,0.7L0.7,-0.7","M-1,0L1,0M0,-1L0,1"]},
     "legend": {"title": null, "orient": "top-right", "offset": 12,
       "fillColor": "white", "strokeColor": "#555555", "padding": 5, "rowPadding": 6, "symbolSize": 144,
       "symbolStrokeWidth": 0.8, "symbolOffset": 3, "labelOffset": 8}}
  }}
],
"resolve": {"axis": {"x": "independent", "y": "independent"}}
}
